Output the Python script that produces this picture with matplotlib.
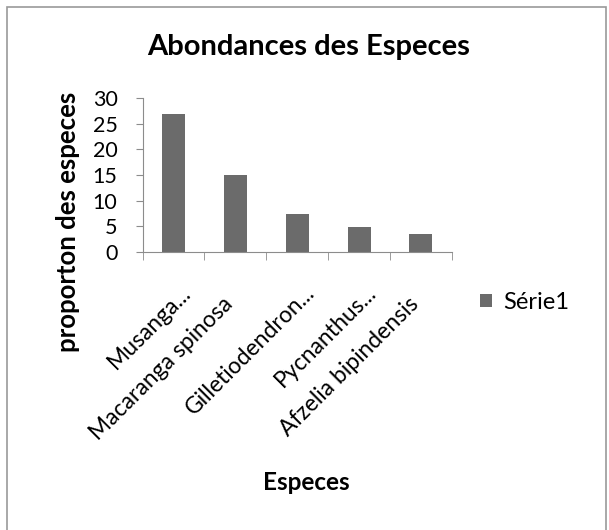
import matplotlib.pyplot as plt
from matplotlib.patches import Rectangle

especes = ["Musanga...", "Macaranga spinosa", "Gilletiodendron...",
           "Pycnanthus...", "Afzelia bipindensis"]
proportions = [26.9, 15.0, 7.4, 4.8, 3.5]
y_ticks = [0, 5, 10, 15, 20, 25, 30]

plt.rcParams["font.family"] = ["Lato", "DejaVu Sans"]

fig = plt.figure(figsize=(6.09, 5.30), dpi=100)
ax = fig.add_axes([0.234, 0.525, 0.508, 0.290])

x = list(range(len(especes)))
ax.bar(x, proportions, width=0.37, color="#6b6b6b", label="Série1")

ax.set_xlim(-0.5, len(especes) - 0.5)
ax.set_ylim(0, 30)
ax.set_yticks(y_ticks)
ax.tick_params(axis="y", labelsize=15.5, length=5, color="#8c8c8c", pad=13)

# category names, slanted; shortened names sit a little higher
ax.set_xticks(x)
ax.set_xticklabels([])
ax.tick_params(axis="x", length=0)
for i, name in enumerate(especes):
    offset = (10, -27) if name.endswith("...") else (-4, -35)
    ax.annotate(name, xy=(i, 0), xycoords="data", xytext=offset,
                textcoords="offset points", rotation=45, rotation_mode="anchor",
                ha="right", va="center", fontsize=16.5, annotation_clip=False)

# category separators below the axis
ax.set_xticks([i - 0.5 for i in range(len(especes) + 1)], minor=True)
ax.tick_params(axis="x", which="minor", length=6, color="#8c8c8c")

for side in ["top", "right"]:
    ax.spines[side].set_visible(False)
for side in ["left", "bottom"]:
    ax.spines[side].set_color("#8c8c8c")

fig.text(0.506, 0.912, "Abondances des Especes", ha="center", va="center",
         fontsize=21, fontweight="bold")
fig.text(0.112, 0.581, "proporton des especes", ha="center", va="center",
         rotation=90, fontsize=18.5, fontweight="bold")
fig.text(0.503, 0.09, "Especes", ha="center", va="center",
         fontsize=17.5, fontweight="bold")

ax.legend(loc="center left", bbox_to_anchor=(1.09, -0.33), frameon=False,
          fontsize=17, handlelength=0.5, handleheight=0.5, handletextpad=0.5,
          borderaxespad=0, borderpad=0)

# outer chart border
fig.patches.append(Rectangle((0.0115, -0.01), 0.983, 0.997,
                             transform=fig.transFigure, fill=False,
                             edgecolor="#9a9a9a", linewidth=1.2))

fig.savefig("out.png", dpi=100)
